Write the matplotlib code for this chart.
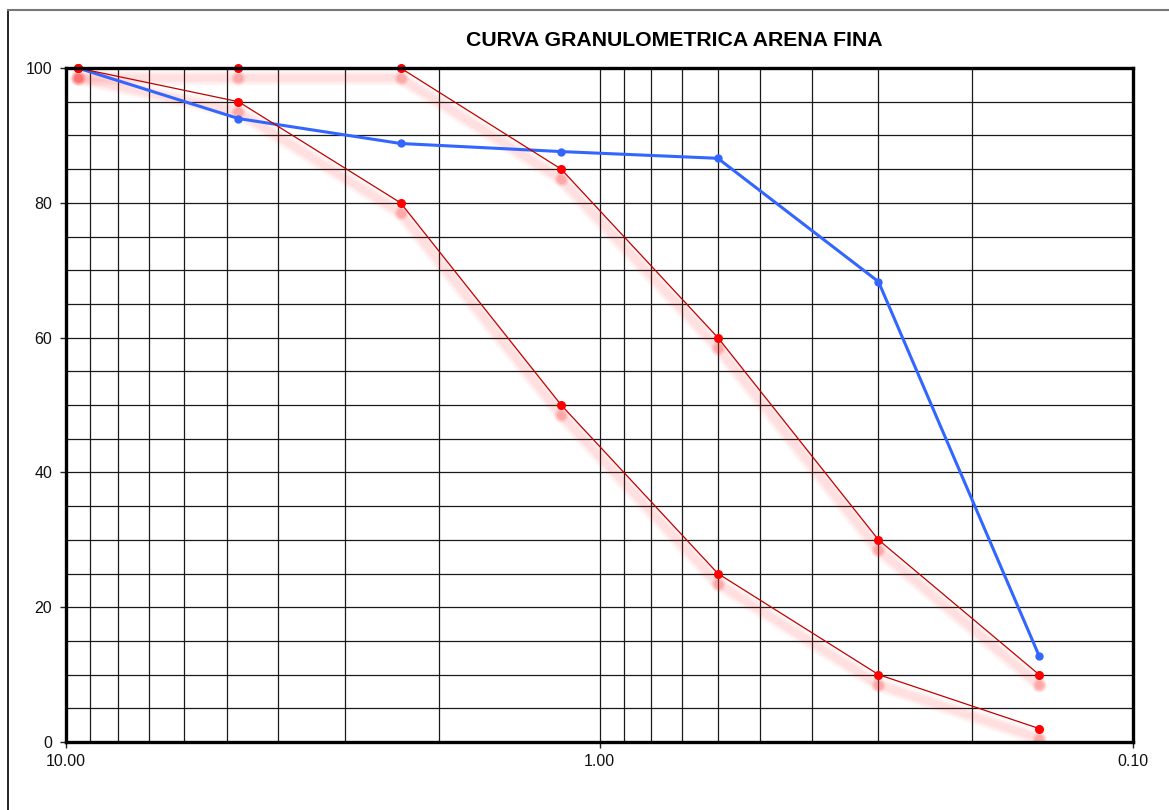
import matplotlib.pyplot as plt
from matplotlib.lines import Line2D
from matplotlib.transforms import offset_copy
from matplotlib.ticker import FixedLocator, NullFormatter

plt.rcParams['font.family'] = ['Liberation Sans', 'DejaVu Sans']

# abertura de tamices (mm)
tamiz = [9.5, 4.75, 2.36, 1.18, 0.6, 0.3, 0.15]
# % que pasa de la muestra
muestra = [100, 92.5, 88.8, 87.6, 86.6, 68.3, 12.8]
# limites del huso granulometrico
lim_sup = [100, 100, 100, 85, 60, 30, 10]
lim_inf = [100, 95, 80, 50, 25, 10, 2]

fig = plt.figure(figsize=(11.69, 8.10), dpi=100)
ax = fig.add_axes([66 / 1169, 1 - 742 / 810, (1133 - 66) / 1169, (742 - 68) / 810])

ax.set_xscale('log')
ax.set_xlim(10, 0.1)
ax.set_ylim(0, 100)

# rejilla
grid_x = [k * 0.1 for k in range(2, 10)] + [k * 1.0 for k in range(1, 10)]
for gx in grid_x:
    ax.axvline(gx, color='#1a1a1a', lw=0.9, zorder=1)
for gy in range(5, 100, 5):
    ax.axhline(gy, color='#1a1a1a', lw=0.9, zorder=1)

# sombra difusa de los limites
sombra = offset_copy(ax.transData, fig=fig, x=0, y=-10, units='dots')
for serie in (lim_sup, lim_inf):
    for lw, a in ((11, 0.04), (8, 0.05), (5, 0.06)):
        ax.plot(tamiz, serie, color='#ff2020', lw=lw, alpha=a,
                solid_capstyle='round', transform=sombra, zorder=2)
    for ms, a in ((10, 0.12), (7, 0.18)):
        ax.plot(tamiz, serie, ls='none', marker='o', ms=ms, mec='none',
                mfc='#ff2020', alpha=a, transform=sombra, zorder=2)

ax.plot(tamiz, muestra, color='#3366ff', lw=2.2, marker='o', ms=5,
        mfc='#3366ff', mec='#3366ff', clip_on=False, zorder=4)

for serie in (lim_sup, lim_inf):
    ax.plot(tamiz, serie, color='#c00000', lw=0.9, marker='o', ms=5.5,
            mfc='#ff0000', mec='#ff0000', clip_on=False, zorder=5)

ax.xaxis.set_major_locator(FixedLocator([10, 1, 0.1]))
ax.xaxis.set_minor_locator(FixedLocator([]))
ax.xaxis.set_minor_formatter(NullFormatter())
ax.set_xticklabels(['10.00', '1.00', '0.10'])
ax.set_yticks(range(0, 101, 20))
ax.tick_params(axis='both', labelsize=11.5, direction='out', length=4,
               width=1, colors='#222222', labelcolor='#111111')
ax.tick_params(axis='x', pad=5)
ax.tick_params(axis='y', pad=6)
for s in ax.spines.values():
    s.set_linewidth(2.4)
    s.set_color('black')
    s.set_zorder(6)

fig.text(674 / 1169, 1 - 41 / 810, 'CURVA GRANULOMETRICA ARENA FINA',
         ha='center', va='center', fontsize=15.3, fontweight='bold')

# marco del grafico
fig.add_artist(Line2D([8 / 1169, 8 / 1169], [0, 1 - 10 / 810], color='black', lw=1.2))
fig.add_artist(Line2D([8 / 1169, 1], [1 - 10 / 810, 1 - 10 / 810], color='#777777', lw=1.5))

fig.savefig('out.png', dpi=100)
